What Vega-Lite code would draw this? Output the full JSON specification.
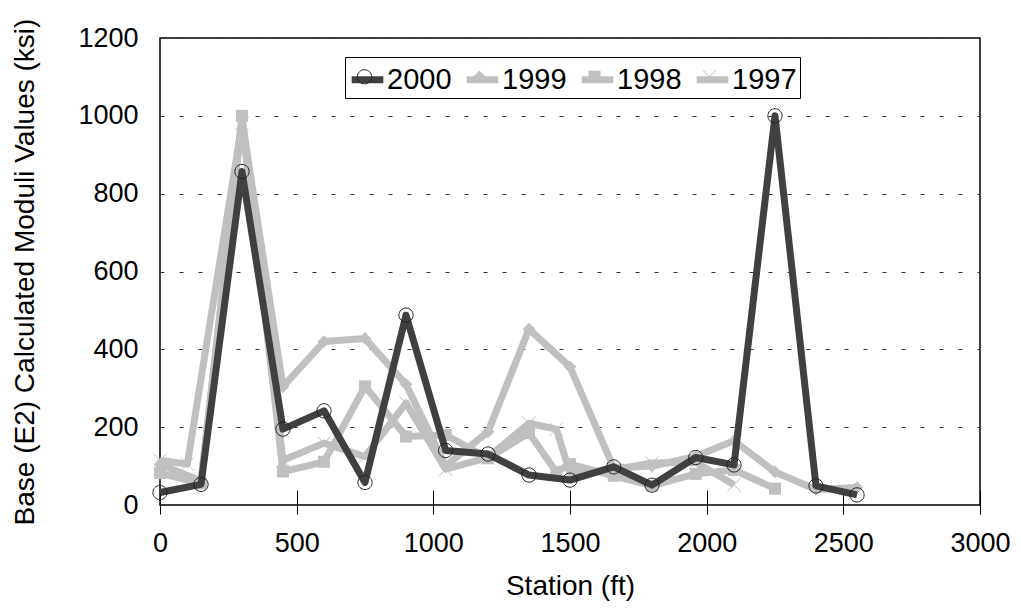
{
  "$schema": "https://vega.github.io/schema/vega-lite/v6.json",
  "autosize": "none",
  "width": 820,
  "height": 467,
  "padding": {"left": 160, "top": 38, "right": 41, "bottom": 110},
  "background": "white",
  "config": {
    "font": "Liberation Sans",
    "view": {"stroke": "#000000", "strokeWidth": 1.5},
    "axis": {"labelFont": "Liberation Sans", "titleFont": "Liberation Sans", "labelColor": "#000", "titleColor": "#000", "titleFontWeight": "normal", "labelFontSize": 27, "titleFontSize": 28}
  },
  "data": {"values": [
    {"year": "2000", "station": 0, "value": 32},
    {"year": "2000", "station": 150, "value": 53},
    {"year": "2000", "station": 300, "value": 857},
    {"year": "2000", "station": 450, "value": 195},
    {"year": "2000", "station": 600, "value": 242},
    {"year": "2000", "station": 750, "value": 58},
    {"year": "2000", "station": 900, "value": 488},
    {"year": "2000", "station": 1045, "value": 140},
    {"year": "2000", "station": 1200, "value": 131},
    {"year": "2000", "station": 1350, "value": 77},
    {"year": "2000", "station": 1500, "value": 64},
    {"year": "2000", "station": 1660, "value": 98},
    {"year": "2000", "station": 1800, "value": 51},
    {"year": "2000", "station": 1960, "value": 122},
    {"year": "2000", "station": 2100, "value": 103},
    {"year": "2000", "station": 2250, "value": 1000},
    {"year": "2000", "station": 2400, "value": 49},
    {"year": "2000", "station": 2550, "value": 26},
    {"year": "1999", "station": 0, "value": 105},
    {"year": "1999", "station": 150, "value": 62},
    {"year": "1999", "station": 300, "value": 990},
    {"year": "1999", "station": 450, "value": 304},
    {"year": "1999", "station": 600, "value": 420},
    {"year": "1999", "station": 750, "value": 428},
    {"year": "1999", "station": 900, "value": 310},
    {"year": "1999", "station": 1045, "value": 100},
    {"year": "1999", "station": 1200, "value": 188},
    {"year": "1999", "station": 1350, "value": 452},
    {"year": "1999", "station": 1500, "value": 355},
    {"year": "1999", "station": 1660, "value": 95},
    {"year": "1999", "station": 1800, "value": 100},
    {"year": "1999", "station": 1960, "value": 125},
    {"year": "1999", "station": 2100, "value": 165},
    {"year": "1999", "station": 2250, "value": 85},
    {"year": "1999", "station": 2400, "value": 40},
    {"year": "1999", "station": 2550, "value": 45},
    {"year": "1998", "station": 0, "value": 82},
    {"year": "1998", "station": 150, "value": 55},
    {"year": "1998", "station": 300, "value": 1000},
    {"year": "1998", "station": 450, "value": 86},
    {"year": "1998", "station": 600, "value": 111},
    {"year": "1998", "station": 750, "value": 305},
    {"year": "1998", "station": 900, "value": 176},
    {"year": "1998", "station": 1045, "value": 180},
    {"year": "1998", "station": 1200, "value": 120},
    {"year": "1998", "station": 1350, "value": 185},
    {"year": "1998", "station": 1450, "value": 85},
    {"year": "1998", "station": 1500, "value": 105},
    {"year": "1998", "station": 1660, "value": 75},
    {"year": "1998", "station": 1800, "value": 50},
    {"year": "1998", "station": 1960, "value": 80},
    {"year": "1998", "station": 2100, "value": 90},
    {"year": "1998", "station": 2250, "value": 42},
    {"year": "1997", "station": 0, "value": 115},
    {"year": "1997", "station": 100, "value": 105},
    {"year": "1997", "station": 300, "value": 980},
    {"year": "1997", "station": 450, "value": 115},
    {"year": "1997", "station": 600, "value": 159},
    {"year": "1997", "station": 750, "value": 124},
    {"year": "1997", "station": 900, "value": 262},
    {"year": "1997", "station": 1045, "value": 92},
    {"year": "1997", "station": 1200, "value": 122},
    {"year": "1997", "station": 1350, "value": 210},
    {"year": "1997", "station": 1450, "value": 195},
    {"year": "1997", "station": 1500, "value": 82},
    {"year": "1997", "station": 1660, "value": 90},
    {"year": "1997", "station": 1800, "value": 108},
    {"year": "1997", "station": 1960, "value": 110},
    {"year": "1997", "station": 2100, "value": 52}
  ]},
  "encoding": {
    "x": {
      "field": "station", "type": "quantitative",
      "scale": {"domain": [0, 3000], "nice": false, "zero": false},
      "axis": {"title": "Station (ft)", "format": "d", "values": [0, 500, 1000, 1500, 2000, 2500, 3000], "domain": false, "ticks": true, "tickSize": 24, "tickColor": "#000", "tickWidth": 1, "offset": -15, "labelPadding": 16, "titlePadding": 16, "grid": false, "labelFlush": false}
    },
    "y": {
      "field": "value", "type": "quantitative",
      "scale": {"domain": [0, 1200], "nice": false},
      "axis": {"title": "Base (E2) Calculated Moduli Values (ksi)", "format": "d", "values": [0, 200, 400, 600, 800, 1000, 1200], "domain": false, "ticks": false, "labelPadding": 22, "titlePadding": 38, "grid": true, "gridDash": [4, 15], "gridColor": "#333", "gridWidth": 1, "labelFlush": false}
    }
  },
  "layer": [
    {
      "transform": [{"filter": "datum.year != '2000'"}],
      "mark": {"type": "line", "strokeWidth": 7, "strokeJoin": "round"},
      "encoding": {
        "color": {"field": "year", "type": "nominal",
          "scale": {"domain": ["2000", "1999", "1998", "1997"], "range": ["#404040", "#c0c0c0", "#c0c0c0", "#c0c0c0"]},
          "legend": {"title": null, "orient": "none", "legendX": 185, "legendY": 19, "direction": "horizontal", "symbolType": "stroke", "symbolStrokeWidth": 7, "symbolSize": 1000, "labelFontSize": 29, "labelFont": "Liberation Sans", "labelColor": "#000", "labelOffset": 0, "columnPadding": 0, "padding": 3, "strokeColor": "#000", "fillColor": "#fff", "labelLimit": 200}
        },
        "detail": {"field": "year"}
      }
    },
    {
      "transform": [{"filter": "datum.year != '2000'"}],
      "mark": {"type": "point", "size": 1000, "strokeWidth": 1, "opacity": 1},
      "encoding": {
        "shape": {"field": "year", "type": "nominal", "sort": "descending",
          "scale": {"range": ["M0.45,0A0.45,0.45,0,1,1,-0.45,0A0.45,0.45,0,1,1,0.45,0Z", "M0,-0.4L0.4,0L0,0.4L-0.4,0Z", "M-0.38,-0.38H0.38V0.38H-0.38Z", "M-0.42,-0.42L0.42,0.42M-0.42,0.42L0.42,-0.42"]},
          "legend": {"title": null, "orient": "none", "legendX": 185, "legendY": 19, "direction": "horizontal", "symbolSize": 1000, "symbolStrokeWidth": 1, "labelExpr": "''", "labelFontSize": 29, "labelOffset": 0, "columnPadding": 82, "padding": 3, "strokeColor": null, "fillColor": null}
        },
        "fill": {"field": "year", "type": "nominal", "sort": "descending",
          "scale": {"range": ["transparent", "#c0c0c0", "#c0c0c0", "transparent"]},
          "legend": {"title": null, "orient": "none", "legendX": 185, "legendY": 19, "direction": "horizontal", "symbolSize": 1000, "symbolStrokeWidth": 1, "labelExpr": "''", "labelFontSize": 29, "labelOffset": 0, "columnPadding": 82, "padding": 3, "strokeColor": null, "fillColor": null}
        },
        "stroke": {"field": "year", "type": "nominal", "sort": "descending",
          "scale": {"range": ["#222222", "transparent", "transparent", "#c0c0c0"]},
          "legend": {"title": null, "orient": "none", "legendX": 185, "legendY": 19, "direction": "horizontal", "symbolSize": 1000, "symbolStrokeWidth": 1, "labelExpr": "''", "labelFontSize": 29, "labelOffset": 0, "columnPadding": 82, "padding": 3, "strokeColor": null, "fillColor": null}
        }
      }
    },
    {
      "transform": [{"filter": "datum.year == '2000'"}],
      "mark": {"type": "line", "strokeWidth": 7, "strokeJoin": "round"},
      "encoding": {
        "color": {"field": "year", "type": "nominal"}
      }
    },
    {
      "transform": [{"filter": "datum.year == '2000'"}],
      "mark": {"type": "point", "size": 1000, "strokeWidth": 1, "opacity": 1},
      "encoding": {
        "shape": {"field": "year", "type": "nominal", "sort": "descending"},
        "fill": {"field": "year", "type": "nominal", "sort": "descending"},
        "stroke": {"field": "year", "type": "nominal", "sort": "descending"}
      }
    }
  ]
}
